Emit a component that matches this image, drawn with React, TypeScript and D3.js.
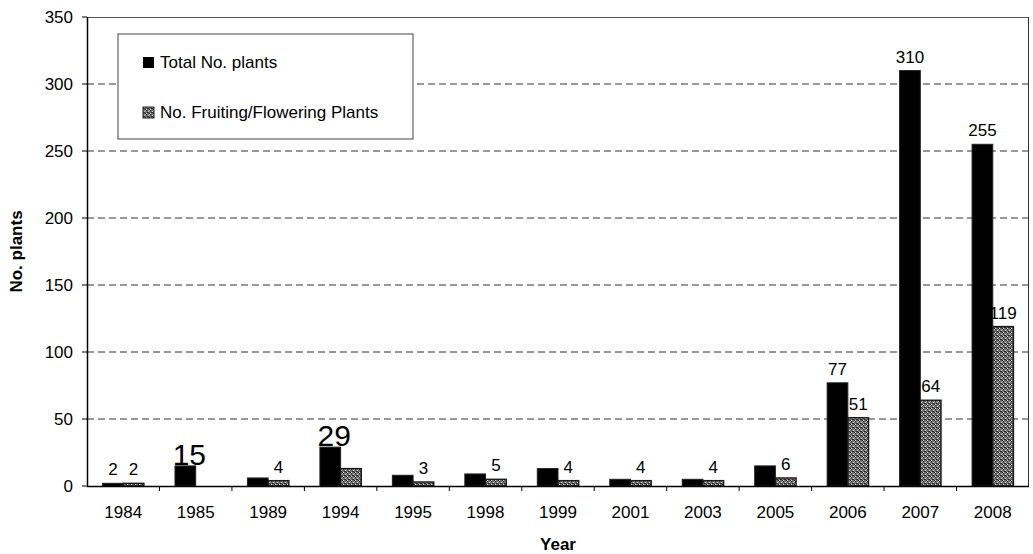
import React from 'react';
import * as d3 from 'd3';

// values
const years = ['1984', '1985', '1989', '1994', '1995', '1998', '1999', '2001', '2003', '2005', '2006', '2007', '2008'];
const totalPlants = [2, 15, 6, 29, 8, 9, 13, 5, 5, 15, 77, 310, 255];
const fruitingPlants = [2, 0, 4, 13, 3, 5, 4, 4, 4, 6, 51, 64, 119];
const yTicks = [0, 50, 100, 150, 200, 250, 300, 350];
// which bars carry a value label (1 = normal, 2 = big)
const totalLabels = [1, 2, 0, 2, 0, 0, 0, 0, 0, 0, 1, 1, 1];
const fruitLabels = [1, 0, 1, 0, 1, 1, 1, 1, 1, 1, 1, 1, 1];
const seriesNames = ['Total No. plants', 'No. Fruiting/Flowering Plants'];

const W = 1033;
const H = 554;
const margin = { top: 17, right: 4, bottom: 68, left: 87 };
const font = '"Liberation Sans", Arial, Helvetica, sans-serif';

export default function App() {
  const innerW = W - margin.left - margin.right;
  const innerH = H - margin.top - margin.bottom;

  const x = d3.scaleBand().domain(years).range([0, innerW]).paddingInner(0).paddingOuter(0);
  const y = d3.scaleLinear().domain([0, 350]).range([innerH, 0]);

  // excel-style gap width 150%: band = 2 bars + 1.5 bar
  const barW = x.bandwidth() / 3.5;
  const groupOff = (x.bandwidth() - 2 * barW) / 2;

  return (
    <svg width={W} height={H} style={{ position: 'absolute', left: 0, top: 0, background: '#fff' }} fontFamily={font}>
      <defs>
        <pattern id="stipple" width="4" height="4" patternUnits="userSpaceOnUse">
          <rect width="4" height="4" fill="#6e6e6e" />
          <rect x="0" y="0" width="1" height="1" fill="#1a1a1a" />
          <rect x="2" y="1" width="1" height="1" fill="#d0d0d0" />
          <rect x="1" y="2" width="1" height="1" fill="#2a2a2a" />
          <rect x="3" y="3" width="1" height="1" fill="#111" />
          <rect x="3" y="0" width="1" height="1" fill="#bdbdbd" />
          <rect x="0" y="3" width="1" height="1" fill="#e4e4e4" />
          <rect x="2" y="2" width="1" height="1" fill="#333" />
        </pattern>
      </defs>
      <g transform={`translate(${margin.left},${margin.top})`}>
        {/* gridlines */}
        {yTicks.filter(t => t > 0 && t < 350).map(t => (
          <line key={'g' + t} x1={0} x2={innerW} y1={y(t)} y2={y(t)} stroke="#333" strokeDasharray="7,4" strokeWidth={1} />
        ))}
        {/* plot border top/right */}
        <line x1={0} x2={innerW} y1={0.5} y2={0.5} stroke="#555" />
        <line x1={innerW - 0.5} x2={innerW - 0.5} y1={0} y2={innerH} stroke="#333" />

        {/* bars */}
        {years.map((yr, i) => {
          const x0 = (x(yr) as number) + groupOff;
          return (
            <g key={yr}>
              <rect x={x0} y={y(totalPlants[i])} width={barW} height={innerH - y(totalPlants[i])} fill="#000" stroke="#222" strokeWidth={1} />
              {fruitingPlants[i] > 0 && (
                <rect x={x0 + barW} y={y(fruitingPlants[i])} width={barW} height={innerH - y(fruitingPlants[i])} fill="url(#stipple)" stroke="#1a1a1a" strokeWidth={1.4} />
              )}
              {totalLabels[i] > 0 && (
                <text x={x0 + barW / 2 + (totalLabels[i] === 2 ? 4 : 0)} y={y(totalPlants[i]) - (totalLabels[i] === 2 ? 1 : 8)}
                  textAnchor="middle" fontSize={totalLabels[i] === 2 ? 30 : 17} fill="#000">{totalPlants[i]}</text>
              )}
              {fruitLabels[i] > 0 && (
                <text x={x0 + barW * 1.5} y={y(fruitingPlants[i]) - 8} textAnchor="middle" fontSize={17} fill="#000">{fruitingPlants[i]}</text>
              )}
            </g>
          );
        })}

        {/* y axis */}
        <line x1={0.5} x2={0.5} y1={0} y2={innerH} stroke="#000" strokeWidth={1.5} />
        {yTicks.map(t => (
          <g key={'y' + t} transform={`translate(0,${y(t)})`}>
            <line x1={-5} x2={0} stroke="#000" />
            <text x={-14} dy="0.35em" textAnchor="end" fontSize={17} fill="#000">{t}</text>
          </g>
        ))}

        {/* x axis */}
        <line x1={0} x2={innerW} y1={innerH + 0.5} y2={innerH + 0.5} stroke="#000" strokeWidth={1.5} />
        {years.map((yr, i) => (
          <g key={'x' + yr}>
            {i > 0 && <line x1={x(yr) as number} x2={x(yr) as number} y1={innerH} y2={innerH + 5} stroke="#000" />}
            <text x={(x(yr) as number) + x.bandwidth() / 2} y={innerH + 32} textAnchor="middle" fontSize={17} fill="#000">{yr}</text>
          </g>
        ))}

        {/* legend */}
        <g transform="translate(31,17)">
          <rect x={0} y={0} width={295} height={105} fill="#fff" stroke="#444" strokeWidth={1} />
          <rect x={25} y={23} width={11} height={11} fill="#000" />
          <text x={42} y={34} fontSize={17} fill="#000">{seriesNames[0]}</text>
          <rect x={25} y={73} width={11} height={11} fill="url(#stipple)" stroke="#222" />
          <text x={42} y={84} fontSize={17} fill="#000">{seriesNames[1]}</text>
        </g>

        {/* axis titles */}
        <text transform={`translate(${-65},${innerH / 2}) rotate(-90)`} textAnchor="middle" fontSize={17} fontWeight="bold" fill="#000">No. plants</text>
        <text x={innerW / 2} y={innerH + 64} textAnchor="middle" fontSize={17} fontWeight="bold" fill="#000">Year</text>
      </g>
    </svg>
  );
}
